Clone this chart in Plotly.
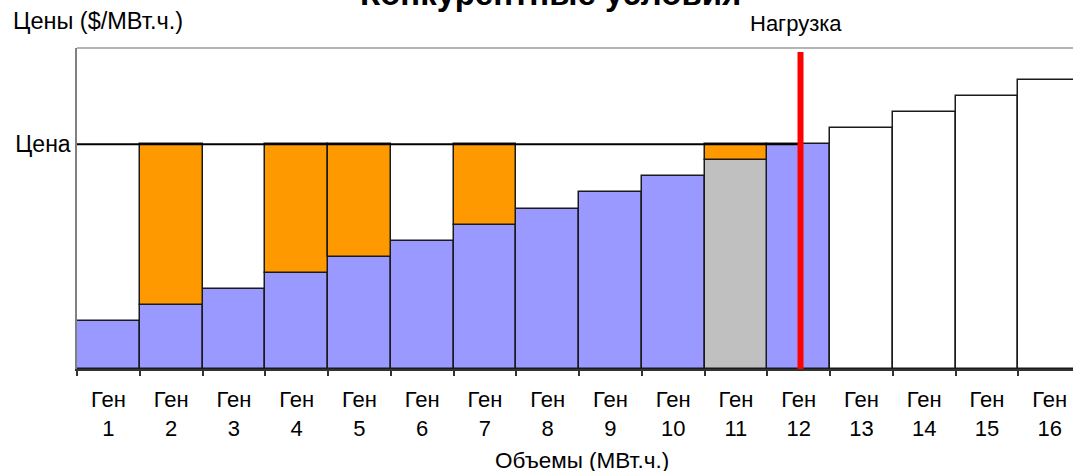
import plotly.graph_objects as go

# ---- data ----
generators = [f"Ген {i}" for i in range(1, 17)]
bids = [3, 4, 5, 6, 7, 8, 9, 10, 11, 12, 13, 14, 15, 16, 17, 18]
market_price = 14
dispatched = [1, 2, 3, 4, 5, 6, 7, 8, 9, 10, 12]      # blue bars
marginal = [11]                                        # grey bar
withheld_bidders = [2, 4, 5, 7, 11]                    # orange: gap up to price
undispatched = [13, 14, 15, 16]                        # white bars
load_position = 11.03                                  # red "Нагрузка" line (x units)

title_text = "Конкурентные условия"
y_label = "Цены ($/МВт.ч.)"
x_label = "Объемы (МВт.ч.)"
load_label = "Нагрузка"
price_label = "Цена"

FONT = "Liberation Sans, Arial, sans-serif"
W, H = 1073, 471
L, T, B = 77, 48, 102
PW, PH = W - L, H - T - B

x = list(range(16))
tick_text = [g.replace(" ", "<br>") for g in generators]


def sel(ids, vals):
    return [v if (i + 1) in ids else None for i, v in enumerate(vals)]


fig = go.Figure()
line = dict(color="#1a1a1a", width=1.5)
fig.add_bar(x=x, y=sel(dispatched, bids), base=0, marker=dict(color="#9999FF", line=line),
            width=1, name="blue")
fig.add_bar(x=x, y=sel(marginal, bids), base=0, marker=dict(color="#C0C0C0", line=line),
            width=1, name="grey")
gaps = [market_price - b for b in bids]
fig.add_bar(x=x, y=sel(withheld_bidders, gaps), base=sel(withheld_bidders, bids),
            marker=dict(color="#FF9900", line=line), width=1, name="orange")
fig.add_bar(x=x, y=sel(undispatched, bids), base=0, marker=dict(color="#FFFFFF", line=line),
            width=1, name="white")

xmax = -0.5 + PW / 62.75

# price line (starts just left of the axis, like a tick)
fig.add_shape(type="line", xref="x", yref="y", x0=-0.565, x1=load_position + 0.02,
              y0=market_price, y1=market_price, line=dict(color="black", width=2))
# load line
fig.add_shape(type="line", xref="x", yref="y", x0=load_position, x1=load_position,
              y0=-0.25, y1=19.75, line=dict(color="#FF0000", width=6))
# top border
fig.add_shape(type="line", xref="paper", yref="paper", x0=0, x1=1, y0=1, y1=1,
              line=dict(color="#B4B4B4", width=2))


def pxp(px):
    return (px - L) / PW


def pyp(py):
    return 1 - (py - T) / PH


ann = [
    dict(text=f"<b>{title_text}</b>", x=pxp(550), y=pyp(-6), size=33, xanchor="center"),
    dict(text=y_label, x=pxp(11), y=pyp(21), size=23.5, xanchor="left"),
    dict(text=load_label, x=pxp(796), y=pyp(23), size=22, xanchor="center"),
    dict(text=x_label, x=pxp(582), y=pyp(460), size=22.5, xanchor="center"),
]
for a in ann:
    fig.add_annotation(text=a["text"], x=a["x"], y=a["y"], xref="paper", yref="paper",
                       xanchor=a["xanchor"], yanchor="middle", showarrow=False,
                       font=dict(size=a["size"], color="black", family=FONT))

fig.update_layout(
    width=W, height=H,
    margin=dict(l=L, r=0, t=T, b=B),
    paper_bgcolor="white", plot_bgcolor="white",
    barmode="overlay", bargap=0, showlegend=False,
    font=dict(family=FONT, size=22, color="black"),
    xaxis=dict(range=[-0.5, xmax], tickmode="array", tickvals=x, ticktext=tick_text,
               showgrid=False, zeroline=False, showline=True, linecolor="#333333",
               linewidth=1.5, ticks="", tickfont=dict(size=22), ticklabelstandoff=10),
    yaxis=dict(range=[0, 20], tickmode="array", tickvals=[market_price],
               ticktext=[price_label], showgrid=False, zeroline=False, showline=True,
               linecolor="#808080", linewidth=1.5, ticks="", tickfont=dict(size=23)),
    xaxis2=dict(overlaying="x", matches="x", range=[-0.5, xmax], tickmode="array",
                tickvals=[i - 0.5 for i in range(17)], ticktext=[""] * 17,
                ticks="outside", ticklen=6, tickcolor="#333333", tickwidth=1.5,
                showgrid=False, zeroline=False, showline=False, side="bottom",
                anchor="y"),
)
fig.add_scatter(x=[0], y=[None], xaxis="x2", yaxis="y", showlegend=False)

fig.write_html("out.html", config={"displayModeBar": False},
               post_script="document.body.style.margin='0';document.body.style.overflow='hidden';")
